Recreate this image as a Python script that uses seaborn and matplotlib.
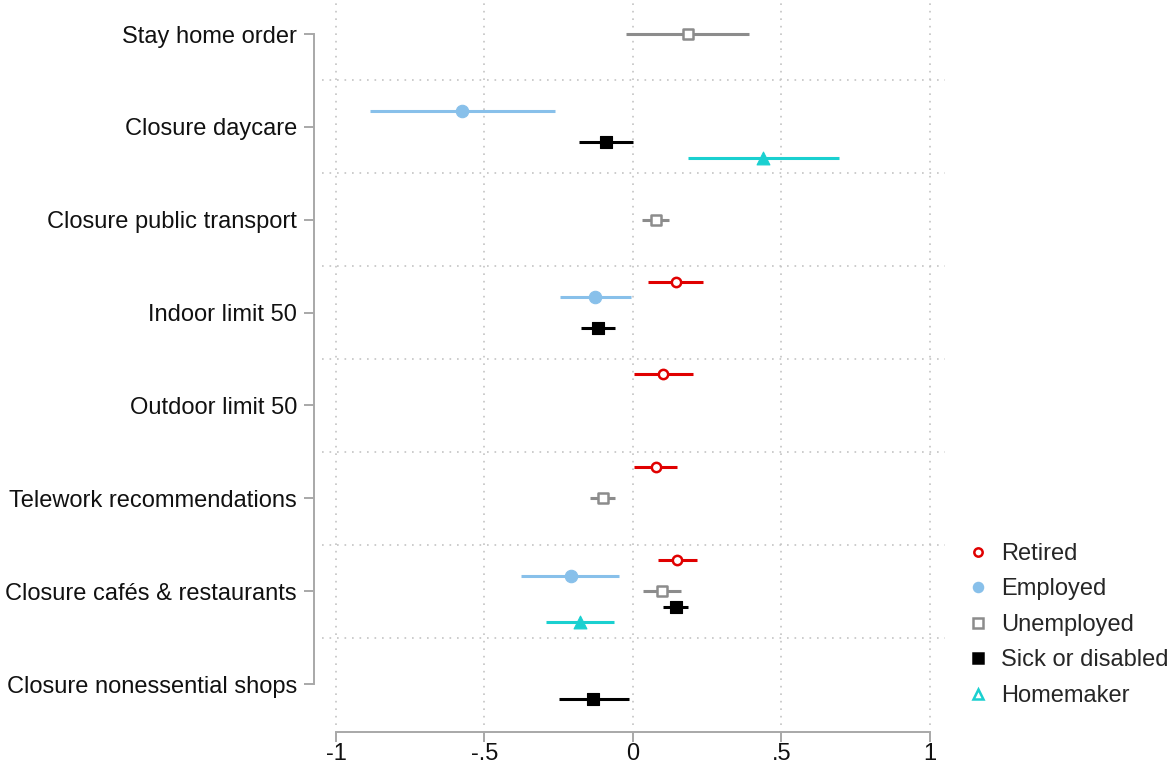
import pandas as pd
import matplotlib
matplotlib.use("Agg")
import matplotlib.pyplot as plt
from matplotlib.lines import Line2D
import seaborn as sns

categories = ["Stay home order", "Closure daycare", "Closure public transport",
              "Indoor limit 50", "Outdoor limit 50", "Telework recommendations",
              "Closure cafés & restaurants", "Closure nonessential shops"]
groups = ["Retired", "Employed", "Unemployed", "Sick or disabled", "Homemaker"]

policy = ["Stay home order",
          "Closure daycare", "Closure daycare", "Closure daycare",
          "Closure public transport",
          "Indoor limit 50", "Indoor limit 50", "Indoor limit 50",
          "Outdoor limit 50",
          "Telework recommendations", "Telework recommendations",
          "Closure cafés & restaurants", "Closure cafés & restaurants",
          "Closure cafés & restaurants", "Closure cafés & restaurants",
          "Closure cafés & restaurants",
          "Closure nonessential shops"]
group = ["Unemployed",
         "Employed", "Sick or disabled", "Homemaker",
         "Unemployed",
         "Retired", "Employed", "Sick or disabled",
         "Retired",
         "Retired", "Unemployed",
         "Retired", "Employed", "Unemployed", "Sick or disabled", "Homemaker",
         "Sick or disabled"]
est = [0.185, -0.576, -0.091, 0.438, 0.077, 0.145, -0.128, -0.118, 0.101,
       0.077, -0.101, 0.148, -0.209, 0.098, 0.145, -0.178, -0.135]
lo = [-0.024, -0.886, -0.182, 0.185, 0.030, 0.050, -0.246, -0.175, 0.003,
      0.003, -0.145, 0.084, -0.377, 0.034, 0.101, -0.293, -0.249]
hi = [0.390, -0.263, 0.000, 0.694, 0.121, 0.236, -0.007, -0.060, 0.202,
      0.148, -0.060, 0.215, -0.047, 0.162, 0.185, -0.064, -0.013]

colors = {"Retired": "#e00000", "Employed": "#88c0ea", "Unemployed": "#8c8c8c",
          "Sick or disabled": "#000000", "Homemaker": "#1ad0d0"}
markers = {"Retired": "o", "Employed": "o", "Unemployed": "s",
           "Sick or disabled": "s", "Homemaker": "^"}
hollow = {"Retired": True, "Employed": False, "Unemployed": True,
          "Sick or disabled": False, "Homemaker": False}
sizes = {"Retired": 45, "Employed": 80, "Unemployed": 45,
         "Sick or disabled": 68, "Homemaker": 85}

df = pd.DataFrame({"policy": policy, "group": group, "est": est, "lo": lo, "hi": hi})
df["y"] = df["policy"].map({c: i for i, c in enumerate(categories)}) + \
    (df["group"].map({g: i for i, g in enumerate(groups)}) - 2) / 6

sns.set_theme(style="white")
plt.rcParams["font.family"] = ["Liberation Sans", "DejaVu Sans"]

fig = plt.figure(figsize=(11.72, 7.76), dpi=100)
ax = fig.add_axes([322 / 1172, 1 - 725 / 776, (945 - 322) / 1172, 725 / 776])

for g in groups:
    sub = df[df["group"] == g]
    if sub.empty:
        continue
    c = colors[g]
    ax.hlines(sub["y"], sub["lo"], sub["hi"], color=c, lw=2.2, zorder=2)
    sns.scatterplot(data=sub, x="est", y="y", ax=ax, marker=markers[g], s=sizes[g],
                    color="white" if hollow[g] else c, edgecolor=c,
                    linewidth=1.8 if hollow[g] else 0.8, zorder=3, legend=False)

ax.set_xlim((322 - 633) / 297, (945 - 633) / 297)
ax.set_ylim((725 - 34) / 92.86, -34 / 92.86)
ax.set_xticks([-1, -0.5, 0, 0.5, 1])
ax.set_xticklabels(["-1", "-.5", "0", ".5", "1"])
ax.set_yticks(range(len(categories)))
ax.set_yticklabels(categories)
ax.set_yticks([i + 0.5 for i in range(len(categories) - 1)], minor=True)
ax.set_xlabel("")
ax.set_ylabel("")

ax.grid(False)
ax.xaxis.grid(True, which="major", color="#c4c4c4", linestyle=(0, (1, 3.5)), lw=1.2)
ax.yaxis.grid(True, which="minor", color="#c4c4c4", linestyle=(0, (1, 3.5)), lw=1.2)
ax.set_axisbelow(True)

for s in ["top", "right"]:
    ax.spines[s].set_visible(False)
ax.spines["left"].set_position(("outward", 6))
ax.spines["bottom"].set_position(("outward", 5))
ax.spines["left"].set_bounds(0, len(categories) - 1)
ax.spines["bottom"].set_bounds(-1, 1)
for s in ["left", "bottom"]:
    ax.spines[s].set_color("#a8a8a8")
    ax.spines[s].set_linewidth(1.4)

ax.tick_params(axis="both", which="major", length=7, width=1.4, color="#a8a8a8",
               labelsize=17, labelcolor="#111111", left=True, bottom=True)
ax.tick_params(axis="y", which="minor", length=0)
ax.tick_params(axis="y", pad=5)
ax.tick_params(axis="x", pad=1)

handles = []
for g in groups:
    c = colors[g]
    handles.append(Line2D([], [], ls="", marker=markers[g], color=c,
                          markerfacecolor="white" if g != "Employed" and g != "Sick or disabled" else c,
                          markeredgecolor=c, markersize=6.5 if g != "Retired" else 6,
                          markeredgewidth=1.8, label=g))
fig.legend(handles=handles, loc="upper left", bbox_to_anchor=(966 / 1172, 1 - 543 / 776),
           frameon=False, fontsize=17, handlelength=1.0, handletextpad=0.5,
           labelspacing=0.57, borderaxespad=0, borderpad=0)

fig.savefig("out.png", dpi=100)
